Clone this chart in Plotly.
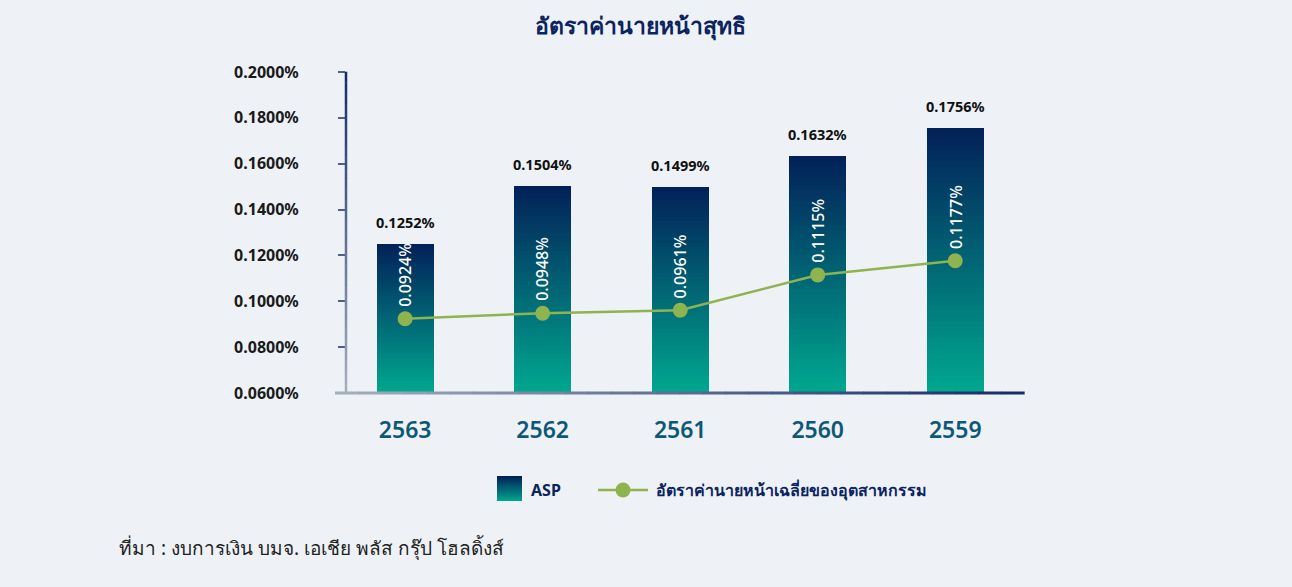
import plotly.graph_objects as go

# ---- data ----
years = ["2563", "2562", "2561", "2560", "2559"]
asp = [0.1252, 0.1504, 0.1499, 0.1632, 0.1756]
industry = [0.0924, 0.0948, 0.0961, 0.1115, 0.1177]
y_ticks = [0.06, 0.08, 0.10, 0.12, 0.14, 0.16, 0.18, 0.20]

title_text = "อัตราค่านายหน้าสุทธิ"
legend_asp = "ASP"
legend_ind = "อัตราค่านายหน้าเฉลี่ยของอุตสาหกรรม"
source_text = "ที่มา : งบการเงิน บมจ. เอเชีย พลัส กรุ๊ป โฮลดิ้งส์"

W, H = 1292, 587
BG = "#EEF2F7"
NAVY = "#0B2460"
GREEN = "#8FB34E"
FONT = "Noto Sans, Open Sans, sans-serif"

TOP_RGB = (2, 32, 88)
BOT_RGB = (0, 168, 143)
AX_DARK = (20, 42, 100)
AX_LIGHT = (165, 175, 190)
N = 48
Y0 = 0.06


def mix(a, b, t):
    r = [round(a[k] + (b[k] - a[k]) * t) for k in range(3)]
    return f"rgb({r[0]},{r[1]},{r[2]})"


def grad(t):  # t=0 bottom, 1 top
    return mix(BOT_RGB, TOP_RGB, t)


def px(x):
    return x / W


def py(y):
    return 1 - y / H


fig = go.Figure()

# gradient bars as stacked segments
for i in range(N):
    bases = [Y0 + (v - Y0) * i / N for v in asp]
    heights = [(v - Y0) / N * (1.0 if i == N - 1 else 1.6) for v in asp]
    fig.add_trace(go.Bar(
        x=list(range(len(years))), y=heights, base=bases, width=0.415,
        marker=dict(color=grad((i + 0.5) / N), line=dict(width=0)),
        showlegend=False, hoverinfo="skip", xaxis="x", yaxis="y"))

# industry line
fig.add_trace(go.Scatter(
    x=list(range(len(years))), y=industry, mode="lines+markers",
    line=dict(color=GREEN, width=2.5),
    marker=dict(color=GREEN, size=15),
    showlegend=False, hoverinfo="skip", xaxis="x", yaxis="y"))

annotations = []
for i, v in enumerate(asp):
    annotations.append(dict(
        x=i, y=v, xref="x", yref="y", text=f"{v:.4f}%", showarrow=False,
        yanchor="bottom", yshift=10,
        font=dict(family=FONT, size=14.5, color="#111111", weight="bold")))
for i, v in enumerate(industry):
    annotations.append(dict(
        x=i, y=v, xref="x", yref="y", text=f"{v:.4f}%", showarrow=False,
        textangle=-90, yanchor="bottom", yshift=10,
        font=dict(family=FONT, size=16, color="#FFFFFF", weight=500)))

# legend icons in mini axes
for i in range(N):
    fig.add_trace(go.Bar(
        x=[0], y=[1 / N * (1.0 if i == N - 1 else 1.6)], base=[i / N], width=1,
        marker=dict(color=grad((i + 0.5) / N), line=dict(width=0)),
        showlegend=False, hoverinfo="skip", xaxis="x2", yaxis="y2"))
fig.add_trace(go.Scatter(
    x=[0, 1], y=[0, 0], mode="lines", line=dict(color=GREEN, width=2.5),
    showlegend=False, hoverinfo="skip", xaxis="x3", yaxis="y3"))
fig.add_trace(go.Scatter(
    x=[0.5], y=[0], mode="markers", marker=dict(color=GREEN, size=15),
    showlegend=False, hoverinfo="skip", xaxis="x3", yaxis="y3"))

annotations += [
    dict(text=title_text, x=px(640), y=py(25), xref="paper", yref="paper",
         showarrow=False, xanchor="center", yanchor="middle",
         font=dict(family=FONT, size=23, color=NAVY, weight="bold")),
    dict(text=legend_asp, x=px(529), y=py(490), xref="paper", yref="paper",
         showarrow=False, xanchor="left", yanchor="middle",
         font=dict(family=FONT, size=16, color=NAVY, weight="bold")),
    dict(text=legend_ind, x=px(654), y=py(490), xref="paper", yref="paper",
         showarrow=False, xanchor="left", yanchor="middle",
         font=dict(family=FONT, size=16, color=NAVY, weight="bold")),
    dict(text=source_text, x=px(117), y=py(548), xref="paper", yref="paper",
         showarrow=False, xanchor="left", yanchor="middle",
         font=dict(family=FONT, size=19, color="#222222")),
]

# gradient axis lines (decoration)
shapes = []
S = 30
y_top, y_bot, x_ax = py(72), py(393), px(346)
for k in range(S):
    t0, t1 = k / S, (k + 1) / S
    shapes.append(dict(type="line", xref="paper", yref="paper",
                       x0=x_ax, x1=x_ax,
                       y0=y_bot + (y_top - y_bot) * t0,
                       y1=y_bot + (y_top - y_bot) * t1 + 0.0005,
                       line=dict(color=mix(AX_LIGHT, AX_DARK, (t0 + t1) / 2), width=2.5)))
x_l, x_r = px(335), px(1024)
for k in range(S):
    t0, t1 = k / S, (k + 1) / S
    shapes.append(dict(type="line", xref="paper", yref="paper",
                       x0=x_l + (x_r - x_l) * t0, x1=x_l + (x_r - x_l) * t1 + 0.0005,
                       y0=y_bot, y1=y_bot,
                       line=dict(color=mix(AX_LIGHT, AX_DARK, (t0 + t1) / 2), width=3)))

fig.update_layout(
    width=W, height=H,
    margin=dict(l=0, r=0, t=0, b=0, autoexpand=False),
    paper_bgcolor=BG, plot_bgcolor=BG,
    barmode="overlay", bargap=0,
    showlegend=False,
    annotations=annotations,
    shapes=shapes,
    xaxis=dict(domain=[px(346), px(1024)],
               range=[-0.43, 4.5], showgrid=False, zeroline=False,
               showline=False, automargin=False,
               tickvals=list(range(len(years))), ticktext=years,
               ticks="", ticklabelstandoff=21,
               tickfont=dict(family=FONT, size=23, color="#0E5877", weight=600)),
    yaxis=dict(domain=[py(393), py(72)], range=[0.06, 0.2],
               tickvals=y_ticks, ticktext=[f"{v:.4f}%" for v in y_ticks],
               showgrid=False, zeroline=False,
               showline=False, automargin=False,
               ticks="outside", ticklen=7, tickwidth=2, tickcolor="#4F6088",
               ticklabelstandoff=36,
               tickfont=dict(family=FONT, size=16, color="#1A1A1A", weight="bold")),
    xaxis2=dict(domain=[px(497), px(522)], range=[-0.5, 0.5], visible=False,
                fixedrange=True, automargin=False),
    yaxis2=dict(domain=[py(501), py(476)], range=[0, 1], visible=False,
                anchor="x2", fixedrange=True, automargin=False),
    xaxis3=dict(domain=[px(598), px(648)], range=[0, 1], visible=False,
                automargin=False),
    yaxis3=dict(domain=[py(500), py(480)], range=[-1, 1], visible=False,
                anchor="x3", automargin=False),
)

fig.write_html("out.html", config={"displayModeBar": False},
               post_script="document.body.style.margin='0';document.body.style.overflow='hidden';")
